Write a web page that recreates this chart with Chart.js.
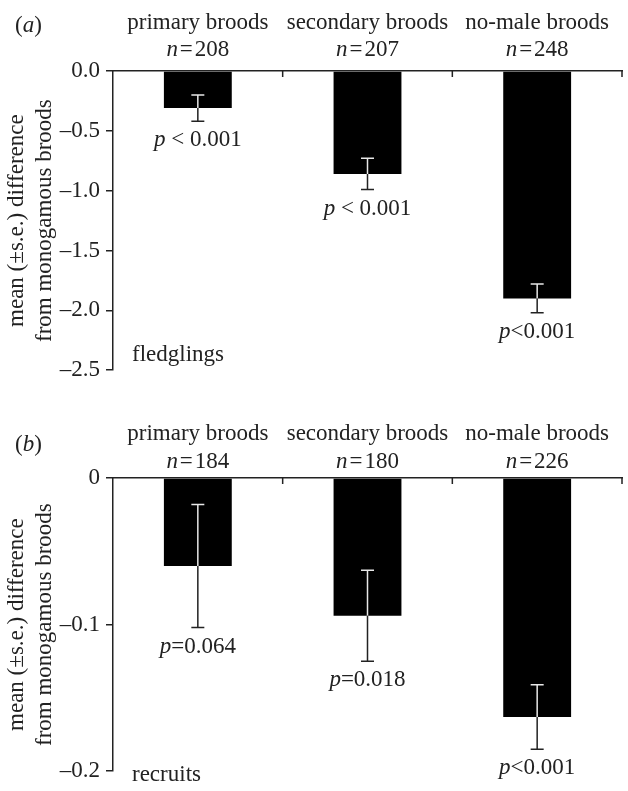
<!DOCTYPE html>
<html>
  <head>
    <meta charset="utf-8">
    <title>Brood differences</title>
    <script src="https://cdn.jsdelivr.net/npm/chart.js"></script>
    <style>
      body { margin: 0; background: #fff; }
      #wrap { position: relative; width: 628px; height: 791px; }
      canvas { position: absolute; left: 0; }
    </style>
  </head>
  <body>
    <div id="wrap">
      <canvas id="chartA" width="628" height="390" style="top:0"></canvas>
      <canvas id="chartB" width="628" height="401" style="top:390px"></canvas>
    </div>

    <script>
      // data
      const categories = ['primary broods', 'secondary broods', 'no-male broods'];

      const fledglingN = [208, 207, 248];
      const fledglingMean = [-0.31, -0.86, -1.90];
      const fledglingSE = [0.11, 0.13, 0.12];
      const fledglingP = [' < 0.001', ' < 0.001', '<0.001'];
      const fledglingTicks = [0, -0.5, -1.0, -1.5, -2.0, -2.5];

      const recruitN = [184, 180, 226];
      const recruitMean = [-0.060, -0.094, -0.163];
      const recruitSE = [0.042, 0.031, 0.022];
      const recruitP = ['=0.064', '=0.018', '<0.001'];
      const recruitTicks = [0, -0.1, -0.2];

      const FONT = "'Liberation Serif', 'DejaVu Serif', serif";
      const SIZE = 23;
      const INK = '#222';

      // draws "<italic>lead</italic>rest" centred on x
      function mixedText(ctx, lead, rest, x, y) {
        ctx.font = 'italic ' + SIZE + 'px ' + FONT;
        const w1 = ctx.measureText(lead).width;
        ctx.font = SIZE + 'px ' + FONT;
        const w2 = ctx.measureText(rest).width;
        const x0 = x - (w1 + w2) / 2;
        ctx.textAlign = 'left';
        ctx.font = 'italic ' + SIZE + 'px ' + FONT;
        ctx.fillText(lead, x0, y);
        ctx.font = SIZE + 'px ' + FONT;
        ctx.fillText(rest, x0 + w1, y);
      }

      const broodPlugin = {
        id: 'brood',
        afterDatasetsDraw(chart) {
          const o = chart.options.plugins.brood;
          const ctx = chart.ctx;
          const xs = chart.scales.x;
          const ys = chart.scales.y;
          const area = chart.chartArea;
          const meta = chart.getDatasetMeta(0);
          ctx.save();

          // error bars: white inside the bar, dark outside
          meta.data.forEach((bar, i) => {
            const m = o.mean[i], se = o.se[i];
            const yTop = ys.getPixelForValue(m + se);
            const yMid = ys.getPixelForValue(m);
            const yBot = ys.getPixelForValue(m - se);
            const x = bar.x;
            ctx.lineWidth = 1.5;
            ctx.strokeStyle = '#e8e8e8';
            ctx.beginPath();
            ctx.moveTo(x, yTop); ctx.lineTo(x, yMid);
            ctx.moveTo(x - 6.5, yTop); ctx.lineTo(x + 6.5, yTop);
            ctx.stroke();
            ctx.strokeStyle = INK;
            ctx.beginPath();
            ctx.moveTo(x, yMid); ctx.lineTo(x, yBot);
            ctx.moveTo(x - 6.5, yBot); ctx.lineTo(x + 6.5, yBot);
            ctx.stroke();

            ctx.fillStyle = INK;
            ctx.textBaseline = 'middle';
            mixedText(ctx, 'p', o.p[i], x, yBot + 19);
          });

          // category separators on the top axis
          ctx.strokeStyle = INK;
          ctx.lineWidth = 1.5;
          ctx.beginPath();
          for (let i = 0; i < categories.length; i++) {
            const xr = i < categories.length - 1
              ? (xs.getPixelForValue(i) + xs.getPixelForValue(i + 1)) / 2
              : area.right;
            ctx.moveTo(xr, area.top);
            ctx.lineTo(xr, area.top + 6);
          }
          ctx.stroke();

          // category names and sample sizes
          ctx.fillStyle = INK;
          ctx.textBaseline = 'middle';
          categories.forEach((c, i) => {
            const x = xs.getPixelForValue(i);
            ctx.font = SIZE + 'px ' + FONT;
            ctx.textAlign = 'center';
            ctx.fillText(c, x, area.top + o.labelY[0]);
            mixedText(ctx, 'n', '\u200a=\u200a' + o.n[i], x, area.top + o.labelY[1]);
          });

          // panel tag and measure name
          ctx.textAlign = 'left';
          ctx.font = SIZE + 'px ' + FONT;
          ctx.fillText('(', 15, o.tagY);
          let w = ctx.measureText('(').width;
          ctx.font = 'italic ' + SIZE + 'px ' + FONT;
          ctx.fillText(o.tag, 15 + w, o.tagY);
          w += ctx.measureText(o.tag).width;
          ctx.font = SIZE + 'px ' + FONT;
          ctx.fillText(')', 15 + w, o.tagY);
          ctx.fillText(o.measure, area.left + 19, o.measureY);
          ctx.restore();
        }
      };

      function makeChart(id, opts) {
        return new Chart(document.getElementById(id), {
          type: 'bar',
          data: {
            labels: categories,
            datasets: [{
              data: opts.mean,
              backgroundColor: '#000',
              borderWidth: 0,
              barPercentage: 0.4,
              categoryPercentage: 1
            }]
          },
          options: {
            responsive: false,
            animation: false,
            layout: { padding: { top: opts.top, right: 6, bottom: opts.bottom, left: 0 } },
            plugins: {
              legend: { display: false },
              tooltip: { enabled: false },
              brood: opts
            },
            scales: {
              x: {
                position: 'top',
                grid: { display: false },
                ticks: { display: false },
                border: { display: true, color: INK, width: 1.5 },
                afterFit: s => { s.height = 0; }
              },
              y: {
                min: opts.min,
                max: 0,
                afterBuildTicks: s => { s.ticks = opts.ticks.map(v => ({ value: v })); },
                ticks: {
                  color: INK,
                  font: { family: FONT, size: SIZE },
                  padding: 6,
                  callback: opts.fmt
                },
                grid: { drawOnChartArea: false, drawTicks: true, tickLength: 7, color: INK, lineWidth: 1.5 },
                border: { display: true, color: INK, width: 1.5 },
                title: {
                  display: true,
                  text: ['mean (\u00b1s.e.) difference', 'from monogamous broods'],
                  color: INK,
                  font: { family: FONT, size: SIZE, lineHeight: 1.22 },
                  padding: { top: 3, bottom: 0 }
                },
                afterFit: s => { s.width = 113; }
              }
            }
          },
          plugins: [broodPlugin]
        });
      }

      makeChart('chartA', {
        mean: fledglingMean, se: fledglingSE, p: fledglingP, n: fledglingN,
        ticks: fledglingTicks, min: -2.5, top: 71, bottom: 19,
        fmt: v => (v === 0 ? '0.0' : '\u2013' + Math.abs(v).toFixed(1)),
        labelY: [-48, -21], tag: 'a', tagY: 26, measure: 'fledglings', measureY: 355
      });

      makeChart('chartB', {
        mean: recruitMean, se: recruitSE, p: recruitP, n: recruitN,
        ticks: recruitTicks, min: -0.2, top: 88, bottom: 12,
        fmt: v => (v === 0 ? '0' : '\u2013' + Math.abs(v).toFixed(1)),
        labelY: [-44, -16], tag: 'b', tagY: 55, measure: 'recruits', measureY: 385
      });
    </script>
  </body>
</html>
